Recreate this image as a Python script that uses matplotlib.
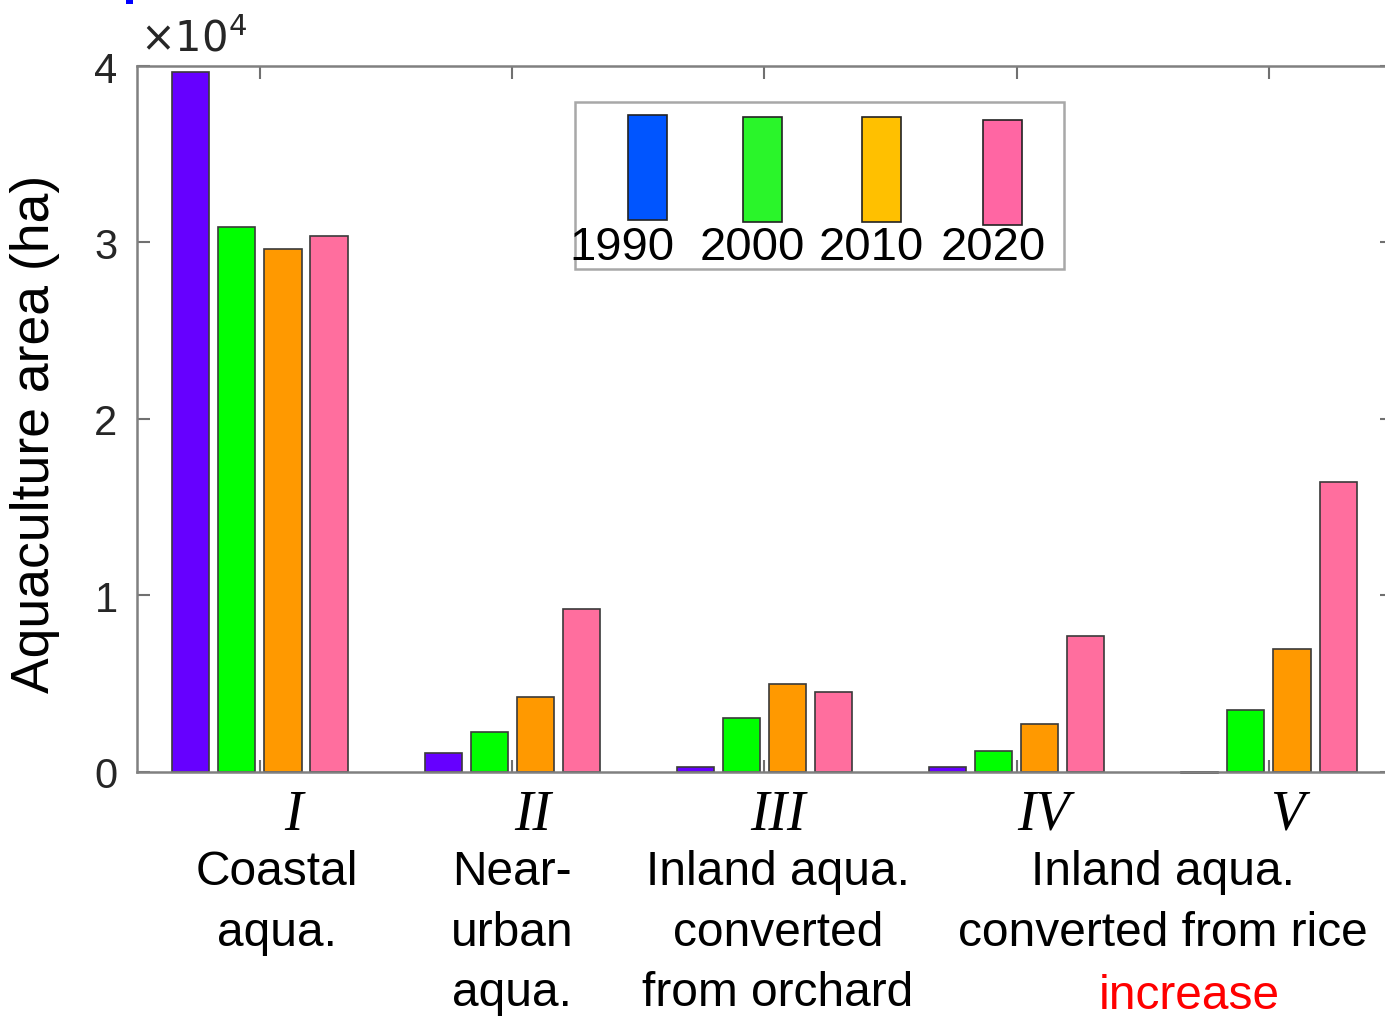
import matplotlib
matplotlib.use("Agg")
import matplotlib.pyplot as plt
import numpy as np
from matplotlib.patches import Rectangle
from matplotlib.ticker import FuncFormatter

plt.rcParams['font.family'] = ['Liberation Sans', 'DejaVu Sans']

# aquaculture area (ha) per type and year
years = ['1990', '2000', '2010', '2020']
area_1990 = [39650, 1080, 280, 280, -40]
area_2000 = [30880, 2270, 3060, 1190, 3510]
area_2010 = [29630, 4250, 4990, 2720, 6970]
area_2020 = [30370, 9230, 4530, 7710, 16430]

roman = ['I', 'II', 'III', 'IV', 'V']
type_names = ['Coastal\naqua.', 'Near-\nurban\naqua.', 'Inland aqua.\nconverted\nfrom orchard',
              'Inland aqua.\nconverted from rice']

bar_colors = ['#6600ff', '#00ff00', '#ff9900', '#ff6e9e']
legend_colors = ['#0055ff', '#2af52a', '#ffc000', '#ff66a3']

fig = plt.figure(figsize=(13.85, 10.2), dpi=100)
ax = fig.add_axes([0.0989, 0.2422, 0.9061, 0.6921])

x = np.arange(1, 6)
offsets = [-0.2739, -0.0913, 0.0913, 0.2739]
for vals, off, col in zip([area_1990, area_2000, area_2010, area_2020], offsets, bar_colors):
    ax.bar(x + off, vals, width=0.147, color=col, edgecolor='#3a3a3a', linewidth=1.2, clip_on=False)

ax.set_xlim(0.5125, 5.4875)
ax.set_ylim(0, 40000)
ax.set_yticks([0, 10000, 20000, 30000, 40000])
ax.yaxis.set_major_formatter(FuncFormatter(lambda v, p: f'{v / 1e4:g}'))
ax.set_xticks(x)
ax.set_xticklabels([])
ax.tick_params(direction='in', length=9, width=1.5, color='#707070', labelsize=30,
               labelcolor='#262626', top=True, right=True, pad=14)
for s in ax.spines.values():
    s.set_color('#808080')
    s.set_linewidth(1.8)

ax.set_ylabel('Aquaculture area (ha)', fontsize=38.5)
ax.yaxis.set_label_coords(-0.061, 0.48)

fig.text(0.101, 0.961, r'$\times10^4$', fontsize=30, color='#262626', ha='left', va='center')

# category labels under the axis
xt = [293, 533, 778, 1043, 1287]
for xp, r in zip(xt, roman):
    fig.text(xp / 1385, 1 - 816 / 1020, r, fontsize=40, family='Liberation Serif',
             style='italic', ha='center', va='center')
name_x = [277, 512, 778, 1163]
for xp, name in zip(name_x, type_names):
    fig.text(xp / 1385, 1 - 850 / 1020, name, fontsize=34.5, ha='center', va='top',
             linespacing=1.45)
fig.text(1189 / 1385, 1 - 997 / 1020, 'increase', fontsize=34.5, color='red',
         ha='center', va='center')

# legend box with upright swatches
fig.patches.append(Rectangle((575 / 1385, 1 - 270 / 1020), 489 / 1385, 167 / 1020,
                             transform=fig.transFigure, facecolor='white',
                             edgecolor='#a8a8a8', linewidth=1.8, zorder=5))
sw_x = [628, 743, 862, 983]
sw_top = [116, 118, 118, 121]
lab_x = [622, 752, 871, 993]
for i in range(4):
    fig.patches.append(Rectangle((sw_x[i] / 1385, 1 - (sw_top[i] + 105) / 1020), 39 / 1385, 105 / 1020,
                                 transform=fig.transFigure, facecolor=legend_colors[i],
                                 edgecolor='#222222', linewidth=1.2, zorder=6))
    fig.text(lab_x[i] / 1385, 1 - 248 / 1020, years[i], fontsize=34, ha='center',
             va='center', zorder=7)

# small blue mark at the top edge
fig.patches.append(Rectangle((126 / 1385, 1 - 5 / 1020), 7 / 1385, 5 / 1020,
                             transform=fig.transFigure, facecolor='#0000ff', edgecolor='none'))

fig.savefig('out.png', dpi=100)
